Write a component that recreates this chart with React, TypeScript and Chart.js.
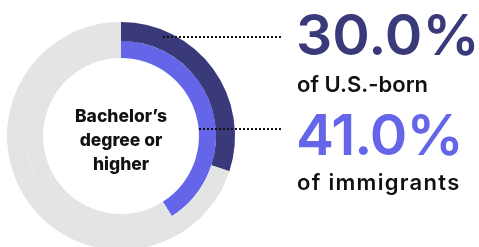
import React, { useEffect, useRef } from "react";
import { Chart, registerables } from "chart.js";

Chart.register(...registerables);

const groups = ["U.S.-born", "Immigrants"];
const shares = [30.0, 41.0];
const valueLabels = ["30.0%", "41.0%"];
const captionLabels = ["of U.S.-born", "of immigrants"];
const centerLines = ["Bachelor\u2019s", "degree or", "higher"];
const ringColors = ["#3a3a7b", "#6465e9"];
const restColor = "#e3e5e4";
const ringWeights = [19, 17];

const W = 479;
const H = 264;

const overlay = {
  id: "overlay",
  afterDraw(chart: any) {
    const ctx = chart.ctx;
    const arc = chart.getDatasetMeta(0).data[0];
    const cx = arc.x;
    const cy = arc.y;
    ctx.save();
    // center text
    ctx.fillStyle = "#111111";
    ctx.textAlign = "center";
    ctx.textBaseline = "middle";
    ctx.font = "800 17.5px Inter";
    centerLines.forEach((t, i) => {
      ctx.fillText(t, cx, cy - 19 + i * 24);
    });
    // leader dots
    const leaders = [
      { x0: cx + 42, y: cy - 99 },
      { x0: cx + 78, y: cy - 7 },
    ];
    leaders.forEach((l) => {
      for (let x = l.x0; x <= 280; x += 4) {
        ctx.fillRect(x, l.y - 1, 2, 2);
      }
    });
    // right text
    ctx.textAlign = "left";
    ctx.textBaseline = "alphabetic";
    const tx = 296;
    const blocks = [
      { vy: 55, cy: 92, vs: "0px", cs: "0px" },
      { vy: 155, cy: 190, vs: "-1px", cs: "1.3px" },
    ];
    blocks.forEach((b, i) => {
      ctx.fillStyle = ringColors[i];
      ctx.font = "600 57px Inter";
      (ctx as any).letterSpacing = b.vs;
      ctx.fillText(valueLabels[i], tx, b.vy);
      ctx.fillStyle = "#111111";
      ctx.font = "600 22px Inter";
      (ctx as any).letterSpacing = b.cs;
      ctx.fillText(captionLabels[i], tx + 1, b.cy);
    });
    (ctx as any).letterSpacing = "0px";
    ctx.restore();
  },
};

export default function App() {
  const ref = useRef<HTMLCanvasElement>(null);
  useEffect(() => {
    if (!ref.current) return;
    const chart = new Chart(ref.current, {
      type: "doughnut",
      data: {
        labels: ["Bachelor's degree or higher", "Other"],
        datasets: groups.map((g, i) => ({
          label: g,
          data: [shares[i], 100 - shares[i]],
          backgroundColor: [ringColors[i], restColor],
          borderWidth: 0,
          weight: ringWeights[i],
        })),
      },
      options: {
        responsive: false,
        animation: false,
        cutout: "68.4%",
        layout: { padding: { left: 7, right: W - 235, top: 22, bottom: H - 250 } },
        plugins: {
          legend: { display: false },
          tooltip: { enabled: false },
        },
      },
      plugins: [overlay],
    });
    return () => chart.destroy();
  }, []);
  return (
    <div
      style={{
        position: "fixed",
        left: 0,
        top: 0,
        width: W,
        height: 247,
        overflow: "hidden",
        background: "#ffffff",
      }}
    >
      <canvas ref={ref} width={W} height={H} style={{ display: "block" }} />
    </div>
  );
}
